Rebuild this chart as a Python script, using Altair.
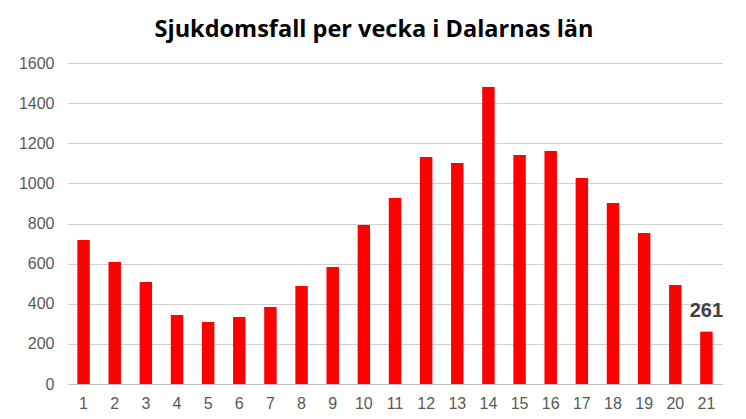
import altair as alt
import pandas as pd

weeks = [str(i) for i in range(1, 22)]
cases = [718, 608, 508, 344, 309, 334, 384, 488, 583, 793, 927, 1131, 1102, 1480, 1141, 1161, 1027, 902, 753, 493, 261]

df = pd.DataFrame({"vecka": weeks, "fall": cases})
last = df.iloc[[-1]]

base = alt.Chart(df)

bars = base.mark_bar(color="#ff0000").encode(
    x=alt.X("vecka:N", sort=weeks, title=None,
            scale=alt.Scale(paddingInner=0.6, paddingOuter=0.3),
            axis=alt.Axis(labelAngle=0, labelFontSize=16, labelColor="#595959",
                          labelFont="Liberation Sans", ticks=False, labelPadding=11,
                          domainColor="#bfbfbf", grid=False)),
    y=alt.Y("fall:Q", title=None,
            scale=alt.Scale(domain=[0, 1600]),
            axis=alt.Axis(values=list(range(0, 1601, 200)), format="d", labelFontSize=16,
                          labelColor="#595959", labelFont="Liberation Sans",
                          ticks=False, domain=False, labelPadding=14,
                          gridColor="#d0d0d0", gridWidth=1)),
)

label = alt.Chart(last).mark_text(
    fontSize=20, fontWeight="bold", color="#404040", font="Liberation Sans",
    dy=-21, baseline="middle"
).encode(
    x=alt.X("vecka:N", sort=weeks),
    y=alt.Y("fall:Q"),
    text=alt.Text("fall:Q"),
)

chart = (bars + label).properties(
    width=730, height=403,
    autosize=alt.AutoSizeParams(type="fit", contains="padding"),
    padding={"left": 10, "top": 9, "right": 16, "bottom": 0},
    title=alt.TitleParams("Sjukdomsfall per vecka i Dalarnas län", fontSize=23.5,
                          font="Open Sans", fontWeight="bold", color="#000000",
                          anchor="middle", dx=-21, offset=14),
).configure_view(stroke=None)

chart.save("out.html", embed_options={"renderer": "svg", "actions": False})
